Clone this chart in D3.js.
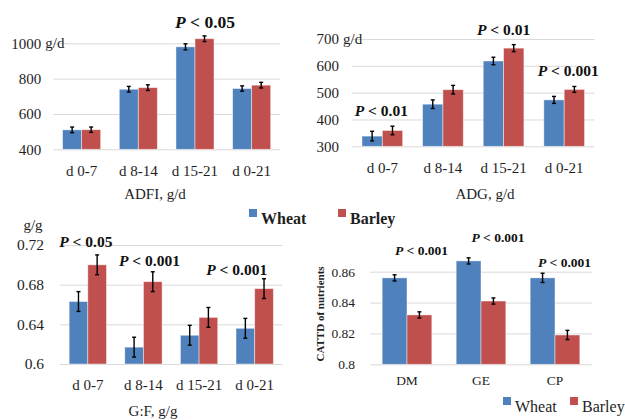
<!DOCTYPE html>
<style>
body { margin: 0; background: #fff; }
svg text { font-family: "Liberation Serif", "Times New Roman", serif; }
</style>
<svg width="625" height="420"></svg>
<script src="https://d3js.org/d3.v7.min.js"></script>
<script>

var series = ["Wheat", "Barley"];
var periods = ["d 0-7", "d 8-14", "d 15-21", "d 0-21"];
var nutrients = ["DM", "GE", "CP"];

// ADFI, g/d
var adfiWheat = [510, 740, 980, 744];
var adfiBarley = [511, 749, 1026, 763];
var adfiWheatSE = [16, 16, 17, 15];
var adfiBarleySE = [15, 16, 16, 16];
var adfiTicks = [400, 600, 800, 1000];
var adfiP = [null, null, "0.05", null];

// ADG, g/d
var adgWheat = [338, 457, 618, 473];
var adgBarley = [359, 511, 666, 512];
var adgWheatSE = [18, 16, 14, 13];
var adgBarleySE = [16, 16, 13, 11];
var adgTicks = [300, 400, 500, 600, 700];
var adgP = ["0.01", null, "0.01", "0.001"];

// G:F, g/g
var gfWheat = [0.663, 0.617, 0.629, 0.636];
var gfBarley = [0.700, 0.683, 0.647, 0.676];
var gfWheatSE = [0.010, 0.010, 0.010, 0.010];
var gfBarleySE = [0.010, 0.010, 0.010, 0.010];
var gfTicks = [0.6, 0.64, 0.68, 0.72];
var gfP = ["0.05", "0.001", null, "0.001"];

// CATTD of nutrients
var cattdWheat = [0.856, 0.867, 0.856];
var cattdBarley = [0.832, 0.841, 0.819];
var cattdWheatSE = [0.002, 0.002, 0.003];
var cattdBarleySE = [0.002, 0.002, 0.003];
var cattdTicks = [0.8, 0.82, 0.84, 0.86];
var cattdP = ["0.001", "0.001", "0.001"];

var color = d3.scaleOrdinal().domain(series).range(["#4f81bd", "#c0504d"]);
var ink = "#1e1e1e";
var serif = "Liberation Serif, Times New Roman, serif";

var svg = d3.select("svg").attr("font-family", serif);

function panel(o) {
  var g = svg.append("g");

  var x0 = d3.scaleBand().domain(o.cats).range(o.xr);
  var x1 = d3.scaleBand().domain(series).range([0, x0.bandwidth()]).paddingOuter(0.49);
  var y = d3.scaleLinear().domain(d3.extent(o.ticks)).range(o.yr);

  var yAxis = g.append("g")
      .attr("transform", "translate(" + o.xr[0] + ",0)")
      .call(d3.axisLeft(y)
        .tickValues(o.ticks)
        .tickSize(-(o.xr[1] - o.xr[0]))
        .tickPadding(o.tickPad)
        .tickFormat(o.fmt))
      .attr("font-family", serif)
      .attr("font-size", o.tickFont);
  yAxis.select(".domain").remove();
  yAxis.selectAll("line").attr("stroke", "#d9d9d9");
  yAxis.selectAll("text").attr("fill", ink);

  if (o.unit) {
    g.append("text")
        .attr("x", o.xr[0] - o.tickPad + 4)
        .attr("y", y(o.ticks[o.ticks.length - 1]))
        .attr("dy", "0.32em")
        .attr("fill", ink)
        .attr("font-size", o.tickFont)
        .text(o.unit);
  }

  var xAxis = g.append("g")
      .attr("transform", "translate(0," + o.yr[0] + ")")
      .call(d3.axisBottom(x0).tickSize(0).tickPadding(o.catPad))
      .attr("font-family", serif)
      .attr("font-size", o.catFont);
  xAxis.select(".domain").remove();
  xAxis.selectAll("text").attr("fill", ink);

  var rows = o.cats.map(function(c, i) {
    return {
      cat: c,
      vals: [
        {s: "Wheat", v: o.wheat[i], e: o.wheatSE[i]},
        {s: "Barley", v: o.barley[i], e: o.barleySE[i]}
      ]
    };
  });

  var grp = g.selectAll(".grp")
    .data(rows)
    .enter().append("g")
      .attr("transform", function(d) { return "translate(" + x0(d.cat) + ",0)"; });

  grp.selectAll("rect")
    .data(function(d) { return d.vals; })
    .enter().append("rect")
      .attr("x", function(d) { return x1(d.s); })
      .attr("y", function(d) { return y(d.v); })
      .attr("width", x1.bandwidth())
      .attr("height", function(d) { return o.yr[0] - y(d.v); })
      .attr("fill", function(d) { return color(d.s); })
      .attr("stroke", "rgba(255,255,255,0.55)")
      .attr("stroke-width", 0.8);

  var err = grp.selectAll(".err")
    .data(function(d) { return d.vals; })
    .enter().append("g")
      .attr("transform", function(d) { return "translate(" + (x1(d.s) + x1.bandwidth() / 2) + ",0)"; })
      .attr("stroke", "#000")
      .attr("stroke-width", 1.4);
  err.append("line")
      .attr("y1", function(d) { return y(d.v - d.e); })
      .attr("y2", function(d) { return y(d.v + d.e); });
  err.append("line")
      .attr("x1", -2).attr("x2", 2)
      .attr("y1", function(d) { return y(d.v - d.e); })
      .attr("y2", function(d) { return y(d.v - d.e); });
  err.append("line")
      .attr("x1", -2).attr("x2", 2)
      .attr("y1", function(d) { return y(d.v + d.e); })
      .attr("y2", function(d) { return y(d.v + d.e); });

  // significance labels over each group
  o.p.forEach(function(p, i) {
    if (!p) return;
    var top = d3.max(rows[i].vals, function(d) { return d.v + d.e; });
    var t = g.append("text")
        .attr("x", x0(o.cats[i]) + x0.bandwidth() / 2 + o.pNudge[i][0])
        .attr("y", y(top) - o.pNudge[i][1])
        .attr("text-anchor", "middle")
        .attr("fill", "#111")
        .attr("font-weight", "bold")
        .attr("font-size", o.pFont);
    t.append("tspan").attr("font-style", "italic").text("P");
    t.append("tspan").text(" < " + p);
  });

  if (o.title) {
    g.append("text")
        .attr("x", o.title[1])
        .attr("y", o.title[2])
        .attr("text-anchor", "middle")
        .attr("fill", ink)
        .attr("font-size", 15)
        .text(o.title[0]);
  }
}

panel({
  cats: periods, wheat: adfiWheat, barley: adfiBarley,
  wheatSE: adfiWheatSE, barleySE: adfiBarleySE,
  ticks: adfiTicks, p: adfiP, fmt: d3.format("d"),
  xr: [53.3, 280], yr: [149.3, 43.3],
  tickPad: 12, tickFont: 15, catPad: 16, catFont: 15, pFont: 17.5,
  unit: "g/d", title: ["ADFI, g/d", 155, 199],
  pNudge: [null, null, [10, 8], null]
});

panel({
  cats: periods, wheat: adgWheat, barley: adgBarley,
  wheatSE: adgWheatSE, barleySE: adgBarleySE,
  ticks: adgTicks, p: adgP, fmt: d3.format("d"),
  xr: [352, 594.5], yr: [146.3, 39],
  tickPad: 13, tickFont: 15, catPad: 16.5, catFont: 15, pFont: 15.5,
  unit: "g/d", title: ["ADG, g/d", 485, 199],
  pNudge: [[-1, 10], null, [0, 10], [4, 10]]
});

panel({
  cats: periods, wheat: gfWheat, barley: gfBarley,
  wheatSE: gfWheatSE, barleySE: gfBarleySE,
  ticks: gfTicks, p: gfP, fmt: function(d) { return d === 0.6 ? "0.6" : d3.format(".2f")(d); },
  xr: [60, 282.5], yr: [364, 245],
  tickPad: 16, tickFont: 15.5, catPad: 15.5, catFont: 15, pFont: 15.5,
  unit: null, title: ["G:F, g/g", 153, 416],
  pNudge: [[-2, 8], [6, 6], null, [-18, 4]]
});

panel({
  cats: nutrients, wheat: cattdWheat, barley: cattdBarley,
  wheatSE: cattdWheatSE, barleySE: cattdBarleySE,
  ticks: cattdTicks, p: cattdP, fmt: function(d) { return d === 0.8 ? "0.8" : d3.format(".2f")(d); },
  xr: [370, 592], yr: [364.3, 271.7],
  tickPad: 15, tickFont: 13.5, catPad: 11, catFont: 13.5, pFont: 13.5,
  unit: null, title: null,
  pNudge: [[14.5, 20], [17, 16], [9.5, 6]]
});

// unit label over G:F axis
svg.append("text")
    .attr("x", 33).attr("y", 230)
    .attr("text-anchor", "middle")
    .attr("fill", ink)
    .attr("font-size", 15)
    .text("g/g");

// y title of nutrient panel
svg.append("text")
    .attr("transform", "translate(324,314) rotate(-90)")
    .attr("text-anchor", "middle")
    .attr("fill", ink)
    .attr("font-weight", "bold")
    .attr("font-size", 11)
    .text("CATTD of nutrients");

// legends
function legend(x, y, gap, size, bold) {
  var lg = svg.append("g").attr("transform", "translate(" + x + "," + y + ")");
  var item = lg.selectAll("g")
    .data(series)
    .enter().append("g")
      .attr("transform", function(d, i) { return "translate(" + (i * gap) + ",0)"; });
  item.append("rect")
      .attr("x", 0).attr("y", -size * 0.5)
      .attr("width", 8).attr("height", 8)
      .attr("fill", color);
  item.append("text")
      .attr("x", 12).attr("y", size * 0.5 - 1)
      .attr("fill", ink)
      .attr("font-size", size)
      .attr("font-weight", bold ? "bold" : "normal")
      .text(function(d) { return d; });
}

legend(249, 217, 89, 16, true);
legend(503, 405, 67, 16, false);

</script>
